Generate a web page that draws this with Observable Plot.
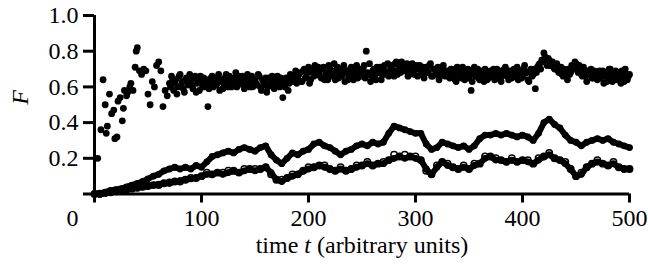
<!DOCTYPE html>
<html><head><meta charset="utf-8">
<script src="https://cdn.jsdelivr.net/npm/d3@7"></script>
<script src="https://cdn.jsdelivr.net/npm/@observablehq/plot@0.6"></script>
<style>
html,body{margin:0;padding:0;background:#fff;}
svg{display:block}
svg text, svg tspan{font-family:"Liberation Serif","Times New Roman",Times,serif !important;}
</style></head><body><div id="chart"></div>
<script>
const xTicks = [0, 100, 200, 300, 400, 500];
const yTicks = [0, 0.2, 0.4, 0.6, 0.8, 1.0];

// top scatter: sparse early points (t, F)
const topEarlyT = [3,6,8,10,11,12,14,16,18,19,21,22,24,26,27,28,30,31,33,34,36,38,39,40,42,44,46,48,50,52,54,56,58,60,62,64,66,68];
const topEarlyF = [0.20,0.36,0.64,0.50,0.34,0.38,0.56,0.45,0.47,0.31,0.32,0.52,0.54,0.41,0.48,0.58,0.55,0.57,0.60,0.62,0.58,0.71,0.80,0.82,0.69,0.67,0.70,0.69,0.56,0.50,0.63,0.60,0.72,0.74,0.69,0.49,0.58,0.55];
// top scatter: dense part, even times from t = 70
const topEvenStart = 70;
const topEvenF = [
0.62,0.66,0.58,0.64,0.60,0.67,0.63,0.57,0.65,0.61,
0.64,0.59,0.66,0.62,0.58,0.63,0.65,0.60,0.49,0.62,
0.66,0.64,0.61,0.67,0.63,0.59,0.65,0.62,0.66,0.60,
0.63,0.68,0.61,0.64,0.66,0.59,0.62,0.65,0.63,0.60,
0.64,0.61,0.66,0.58,0.63,0.65,0.60,0.62,0.66,0.59,
0.63,0.61,0.65,0.54,0.60,0.64,0.62,0.66,0.63,0.69,
0.65,0.68,0.63,0.70,0.66,0.71,0.64,0.68,0.72,0.67,
0.69,0.65,0.71,0.67,0.64,0.70,0.66,0.73,0.68,0.65,
0.70,0.67,0.63,0.69,0.66,0.71,0.64,0.68,0.65,0.70,
0.66,0.72,0.80,0.67,0.63,0.69,0.66,0.71,0.68,0.64,
0.70,0.67,0.73,0.69,0.72,0.66,0.74,0.70,0.68,0.72,
0.69,0.73,0.67,0.71,0.68,0.70,0.66,0.72,0.69,0.65,
0.71,0.68,0.73,0.66,0.70,0.67,0.64,0.69,0.72,0.66,
0.68,0.65,0.70,0.67,0.63,0.69,0.66,0.71,0.64,0.68,
0.65,0.58,0.69,0.66,0.70,0.64,0.67,0.63,0.68,0.65,
0.69,0.66,0.64,0.70,0.67,0.63,0.68,0.71,0.66,0.69,
0.65,0.70,0.67,0.64,0.69,0.66,0.72,0.68,0.63,0.70,
0.67,0.59,0.71,0.73,0.75,0.79,0.74,0.76,0.72,0.74,
0.70,0.73,0.68,0.71,0.66,0.69,0.64,0.67,0.72,0.70,
0.73,0.68,0.71,0.66,0.69,0.63,0.67,0.70,0.65,0.68,
0.64,0.69,0.66,0.62,0.68,0.65,0.70,0.63,0.67,0.64,
0.68,0.62,0.66,0.70,0.64,0.67];
// top scatter: dense part, odd times from t = 71
const topOddStart = 71;
const topOddF = [
0.60,0.64,0.62,0.56,0.66,0.61,0.59,0.64,0.62,0.67,
0.61,0.65,0.57,0.63,0.66,0.60,0.62,0.64,0.59,0.65,
0.60,0.62,0.65,0.58,0.64,0.61,0.67,0.60,0.63,0.64,
0.65,0.60,0.66,0.62,0.61,0.64,0.67,0.60,0.66,0.62,
0.62,0.67,0.60,0.64,0.61,0.57,0.65,0.63,0.61,0.64,
0.66,0.60,0.63,0.61,0.65,0.58,0.67,0.64,0.66,0.62,
0.67,0.63,0.69,0.65,0.68,0.62,0.70,0.66,0.69,0.71,
0.66,0.70,0.64,0.68,0.72,0.67,0.69,0.64,0.71,0.68,
0.66,0.72,0.68,0.64,0.70,0.67,0.69,0.72,0.66,0.68,
0.70,0.65,0.68,0.73,0.66,0.70,0.64,0.68,0.71,0.67,
0.72,0.68,0.66,0.71,0.69,0.73,0.67,0.71,0.74,0.69,
0.71,0.66,0.70,0.73,0.67,0.72,0.70,0.67,0.71,0.68,
0.69,0.72,0.66,0.70,0.68,0.71,0.66,0.70,0.67,0.69,
0.66,0.70,0.68,0.64,0.71,0.67,0.65,0.69,0.67,0.70,
0.67,0.63,0.71,0.68,0.65,0.69,0.66,0.70,0.64,0.67,
0.66,0.70,0.68,0.65,0.69,0.66,0.70,0.67,0.64,0.68,
0.68,0.66,0.71,0.67,0.65,0.70,0.68,0.64,0.69,0.66,
0.70,0.68,0.72,0.70,0.74,0.77,0.72,0.75,0.73,0.71,
0.72,0.69,0.71,0.67,0.70,0.66,0.70,0.68,0.71,0.74,
0.70,0.72,0.67,0.71,0.66,0.69,0.68,0.65,0.69,0.66,
0.67,0.65,0.69,0.66,0.63,0.70,0.67,0.65,0.69,0.66,
0.65,0.69,0.63,0.67,0.66];

// lower series, every 5 time units from t = 0
const lineStep = 5;
const upperF = [
0,0.005,0.01,0.02,0.025,0.03,0.04,0.05,0.06,0.07,
0.085,0.10,0.11,0.13,0.14,0.15,0.14,0.15,0.14,0.16,
0.15,0.18,0.21,0.22,0.23,0.24,0.23,0.25,0.26,0.25,
0.24,0.26,0.27,0.22,0.19,0.17,0.20,0.23,0.22,0.24,
0.25,0.28,0.29,0.27,0.26,0.24,0.22,0.24,0.25,0.27,
0.28,0.27,0.29,0.28,0.29,0.34,0.38,0.37,0.36,0.35,
0.34,0.34,0.28,0.25,0.26,0.29,0.28,0.27,0.26,0.27,
0.25,0.27,0.31,0.33,0.33,0.34,0.33,0.34,0.33,0.32,
0.33,0.32,0.30,0.34,0.40,0.42,0.39,0.37,0.33,0.30,
0.29,0.27,0.29,0.30,0.31,0.30,0.31,0.29,0.28,0.27,
0.26];
const lowerFilledF = [
0,0,0.005,0.01,0.015,0.02,0.025,0.03,0.035,0.04,
0.045,0.05,0.055,0.06,0.06,0.07,0.075,0.08,0.085,0.09,
0.10,0.11,0.11,0.12,0.11,0.12,0.13,0.12,0.13,0.14,
0.13,0.14,0.15,0.12,0.08,0.07,0.09,0.10,0.11,0.13,
0.14,0.15,0.16,0.15,0.14,0.13,0.14,0.13,0.14,0.15,
0.16,0.17,0.16,0.17,0.17,0.19,0.20,0.21,0.20,0.21,
0.20,0.19,0.14,0.11,0.15,0.18,0.16,0.15,0.14,0.15,
0.14,0.16,0.17,0.20,0.21,0.19,0.19,0.18,0.19,0.18,
0.19,0.18,0.17,0.19,0.21,0.22,0.20,0.19,0.17,0.14,
0.10,0.11,0.15,0.17,0.18,0.17,0.16,0.17,0.15,0.14,
0.14];
const lowerOpenF = [
0,0,0.005,0.01,0.015,0.02,0.025,0.03,0.035,0.04,
0.045,0.05,0.05,0.06,0.065,0.07,0.07,0.08,0.09,0.09,
0.10,0.12,0.11,0.12,0.12,0.13,0.13,0.12,0.14,0.14,
0.14,0.14,0.15,0.11,0.08,0.08,0.09,0.11,0.11,0.13,
0.15,0.15,0.16,0.16,0.14,0.13,0.15,0.13,0.14,0.16,
0.16,0.18,0.16,0.17,0.18,0.19,0.22,0.21,0.22,0.21,
0.21,0.19,0.13,0.11,0.16,0.18,0.17,0.15,0.14,0.16,
0.14,0.17,0.17,0.21,0.21,0.20,0.19,0.18,0.20,0.18,
0.19,0.19,0.17,0.20,0.21,0.23,0.20,0.19,0.18,0.14,
0.10,0.12,0.15,0.17,0.19,0.17,0.16,0.18,0.15,0.14,
0.14];

const topPts = topEarlyT.map((t, i) => ({t, F: topEarlyF[i]}))
  .concat(topEvenF.map((F, i) => ({t: topEvenStart + i * 2, F})))
  .concat(topOddF.map((F, i) => ({t: topOddStart + i * 2, F})));
const toSeries = arr => arr.map((F, i) => ({t: i * lineStep, F}));
const upper = toSeries(upperF);
const lowerFilled = toSeries(lowerFilledF);
const lowerOpen = toSeries(lowerOpenF);

const serif = "'Liberation Serif', 'Times New Roman', Times, serif";
const chart = Plot.plot({
  width: 648, height: 273,
  marginLeft: 94, marginRight: 19, marginTop: 15, marginBottom: 79.5,
  style: {fontFamily: serif, fontSize: "24px", background: "white", color: "black"},
  x: {domain: [0, 500]},
  y: {domain: [0, 1]},
  marks: [
    Plot.dot(topPts, {x: "t", y: "F", r: 3.4, fill: "black", stroke: "none"}),
    Plot.line(upper, {x: "t", y: "F", stroke: "black", strokeWidth: 6}),
    Plot.dot(upper, {x: "t", y: "F", r: 3.4, fill: "black", stroke: "none"}),
    Plot.dot(lowerOpen, {x: "t", y: "F", r: 3.2, fill: "white", stroke: "black", strokeWidth: 1.5}),
    Plot.line(lowerFilled, {x: "t", y: "F", stroke: "black", strokeWidth: 6}),
    Plot.dot(lowerFilled, {x: "t", y: "F", r: 3.4, fill: "black", stroke: "none"}),
    Plot.ruleX([0], {y1: 0, y2: 1, stroke: "black", strokeWidth: 3}),
    Plot.ruleY([0], {x1: 0, x2: 500, stroke: "black", strokeWidth: 3}),
    Plot.axisY(yTicks, {tickSize: 11, tickPadding: 5, strokeWidth: 3, fontSize: 24,
      tickFormat: d => d === 0 ? "" : d.toFixed(1), label: null}),
    Plot.axisX(xTicks, {tickSize: 9, tickPadding: 5.5, strokeWidth: 3, fontSize: 24,
      tickFormat: d => d === 0 ? "" : String(d), label: null}),
    Plot.axisX([0], {tickSize: 0, tickPadding: 14.5, dx: -22, fontSize: 24,
      tickFormat: d => String(d), label: null}),
    Plot.text(["F"], {text: d => d, frameAnchor: "left", dx: -74, rotate: -90,
      fontStyle: "italic", fontSize: 24}),
    Plot.text(["time t (arbitrary units)"], {text: d => d, frameAnchor: "bottom",
      dy: 58.5, lineAnchor: "bottom", fontSize: 24})
  ]
});
document.getElementById("chart").appendChild(chart);
// italicise the variable t in the x-axis title
chart.querySelectorAll("text").forEach(el => {
  if (el.textContent === "time t (arbitrary units)") {
    const ns = "http://www.w3.org/2000/svg";
    el.textContent = "";
    const parts = [["time ", null], ["t", "italic"], [" (arbitrary units)", null]];
    for (const [s, st] of parts) {
      const ts = document.createElementNS(ns, "tspan");
      ts.textContent = s;
      if (st) ts.setAttribute("font-style", st);
      el.appendChild(ts);
    }
  }
});
</script></body></html>
